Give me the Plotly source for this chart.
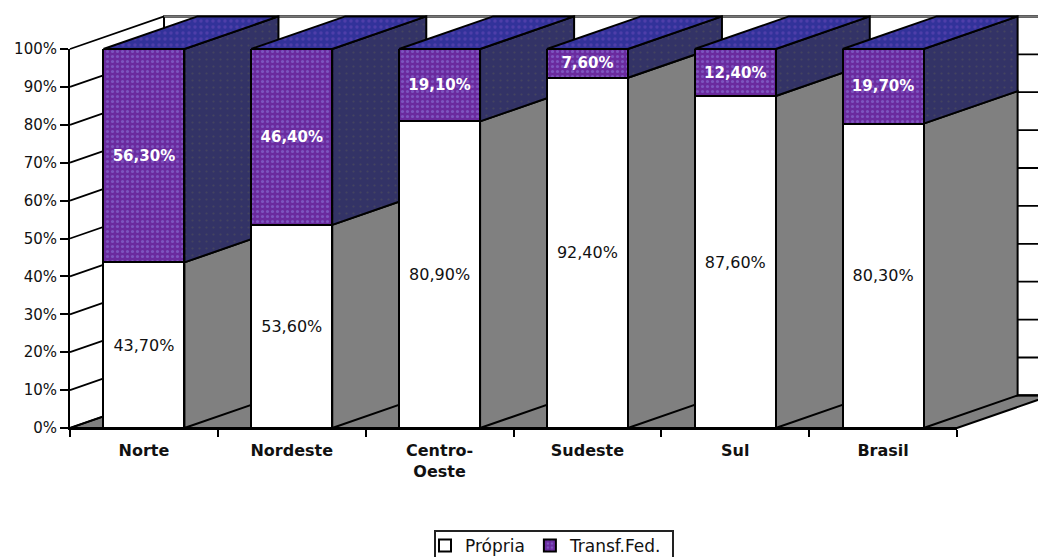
import plotly.graph_objects as go

regions = ["Norte", "Nordeste", "Centro-<br>Oeste", "Sudeste", "Sul", "Brasil"]
propria = [43.7, 53.6, 80.9, 92.4, 87.6, 80.3]
transf_fed = [56.3, 46.4, 19.1, 7.6, 12.4, 19.7]
propria_labels = ["43,70%", "53,60%", "80,90%", "92,40%", "87,60%", "80,30%"]
transf_labels = ["56,30%", "46,40%", "19,10%", "7,60%", "12,40%", "19,70%"]
y_ticks = list(range(0, 101, 10))
y_tick_labels = [f"{v}%" for v in y_ticks]

W, H = 1038, 557

# Front plane of the chart in page pixels
PLOT_LEFT, PLOT_RIGHT = 70, 957
PLOT_TOP, PLOT_BOTTOM = 49, 428

# Oblique projection of the chart's depth, in axis units
DEPTH_X = 0.636
DEPTH_Y = 8.6
BAR_WIDTH = 0.548

FONT = "DejaVu Sans"
GREY = "#808080"
PURPLE = "#6a2a9e"
SIDE_BLUE = "#333366"
TOP_BLUE = "#32329a"
EDGE = "#000000"
EDGE_WIDTH = 2

n = len(regions)
px_per_cat = (PLOT_RIGHT - PLOT_LEFT) / n
px_per_pct = (PLOT_BOTTOM - PLOT_TOP) / 100

fig = go.Figure()


def face(xs, ys, color, pattern=None, line_width=EDGE_WIDTH):
    fig.add_trace(go.Scatter(
        x=xs + xs[:1], y=ys + ys[:1], mode="lines", fill="toself",
        fillcolor=color, fillpattern=pattern,
        line=dict(color=EDGE, width=line_width),
        showlegend=False, hoverinfo="skip",
    ))


def lines(xs, ys, color=EDGE, width=EDGE_WIDTH):
    fig.add_trace(go.Scatter(
        x=xs, y=ys, mode="lines", line=dict(color=color, width=width),
        showlegend=False, hoverinfo="skip",
    ))


# Walls and floor behind the bars
face([DEPTH_X, n + DEPTH_X, n + DEPTH_X, DEPTH_X],
     [DEPTH_Y, DEPTH_Y, 100 + DEPTH_Y, 100 + DEPTH_Y], "#ffffff")
face([0, n, n + DEPTH_X, DEPTH_X], [0, 0, DEPTH_Y, DEPTH_Y], GREY)

grid_x, grid_y = [], []
for v in y_ticks:
    grid_x += [0, DEPTH_X, n + DEPTH_X, None]
    grid_y += [v, v + DEPTH_Y, v + DEPTH_Y, None]
lines(grid_x, grid_y, width=1.8)
lines([DEPTH_X, n + DEPTH_X], [100 + DEPTH_Y, 100 + DEPTH_Y], color="#777777", width=1.8)

side_dots = dict(shape=".", bgcolor=SIDE_BLUE, fgcolor="#55555a", size=7, solidity=0.08)
top_dots = dict(shape=".", bgcolor=TOP_BLUE, fgcolor="#6a4ab8", size=6, solidity=0.25)

# Side and top faces, left to right so each bar hides the one before it
for i in range(n):
    left = i + 0.5 - BAR_WIDTH / 2
    right = i + 0.5 + BAR_WIDTH / 2
    low, high = propria[i], propria[i] + transf_fed[i]
    face([right, right + DEPTH_X, right + DEPTH_X, right],
         [0, DEPTH_Y, low + DEPTH_Y, low], GREY)
    face([right, right + DEPTH_X, right + DEPTH_X, right],
         [low, low + DEPTH_Y, high + DEPTH_Y, high], SIDE_BLUE, side_dots)
    face([left, right, right + DEPTH_X, left + DEPTH_X],
         [high, high, high + DEPTH_Y, high + DEPTH_Y], TOP_BLUE, top_dots)

centers = [i + 0.5 for i in range(n)]

# Front faces use the visible axes, drawn above every oblique face
fig.add_trace(go.Bar(
    name="Própria", x=centers, y=propria, width=BAR_WIDTH,
    xaxis="x2", yaxis="y2",
    marker=dict(color="#ffffff", line=dict(color=EDGE, width=EDGE_WIDTH)),
    text=propria_labels, textposition="inside", insidetextanchor="middle",
    textangle=0, constraintext="none",
    textfont=dict(family=FONT, size=16, color="#111111"), hoverinfo="skip",
))
fig.add_trace(go.Bar(
    name="Transf.Fed.", x=centers, y=transf_fed, width=BAR_WIDTH,
    xaxis="x2", yaxis="y2",
    marker=dict(color=PURPLE, line=dict(color=EDGE, width=EDGE_WIDTH),
                pattern=dict(shape=".", bgcolor=PURPLE, fgcolor="#8f7fe0",
                             size=5, solidity=0.3)),
    text=transf_labels, textposition="inside", insidetextanchor="middle",
    textangle=0, constraintext="none",
    textfont=dict(family=FONT, size=15, color="#ffffff", weight="bold"), hoverinfo="skip",
))

fig.update_layout(
    width=W, height=H,
    margin=dict(l=0, r=0, t=0, b=0, pad=0, autoexpand=False),
    paper_bgcolor="#ffffff", plot_bgcolor="rgba(0,0,0,0)",
    barmode="stack", showlegend=True,
    font=dict(family=FONT, color="#111111"),
    # Page-wide hidden axes carry the oblique faces on the same scale as the bars
    xaxis=dict(
        domain=[0, 1], visible=False, anchor="y",
        range=[-PLOT_LEFT / px_per_cat, (W - PLOT_LEFT) / px_per_cat],
    ),
    yaxis=dict(
        domain=[0, 1], visible=False, anchor="x",
        range=[-(H - PLOT_BOTTOM) / px_per_pct, 100 + PLOT_TOP / px_per_pct],
    ),
    xaxis2=dict(
        domain=[PLOT_LEFT / W, PLOT_RIGHT / W], anchor="y2",
        range=[0, n], tickmode="array", tickvals=centers, ticktext=regions,
        ticks="", ticklabelstandoff=7, showgrid=False, zeroline=False,
        showline=True, linecolor=EDGE, linewidth=2,
        tickfont=dict(family=FONT, size=16, weight="bold"),
        minor=dict(tickmode="array", tickvals=list(range(n + 1)), ticks="outside",
                   ticklen=7, tickwidth=2, tickcolor=EDGE, showgrid=False),
    ),
    yaxis2=dict(
        domain=[(H - PLOT_BOTTOM) / H, (H - PLOT_TOP) / H], anchor="x2",
        range=[0, 100], tickmode="array", tickvals=y_ticks, ticktext=y_tick_labels,
        ticks="outside", ticklen=8, tickwidth=2, tickcolor=EDGE,
        showgrid=False, zeroline=False,
        showline=True, linecolor=EDGE, linewidth=2,
        tickfont=dict(family=FONT, size=15),
    ),
    legend=dict(
        orientation="h", x=425 / W, xanchor="left",
        y=(H - 528) / H, yanchor="top", traceorder="normal",
        bgcolor="rgba(0,0,0,0)", borderwidth=0,
        font=dict(family=FONT, size=17),
    ),
    # Frame round the legend runs past the bottom of the page
    shapes=[dict(
        type="rect", xref="paper", yref="paper", layer="below",
        x0=435 / W, x1=673 / W, y0=-0.02, y1=(H - 531) / H,
        line=dict(color="#222222", width=2), fillcolor="#ffffff",
    )],
)

fig.write_html("out.html", config={"displayModeBar": False})
